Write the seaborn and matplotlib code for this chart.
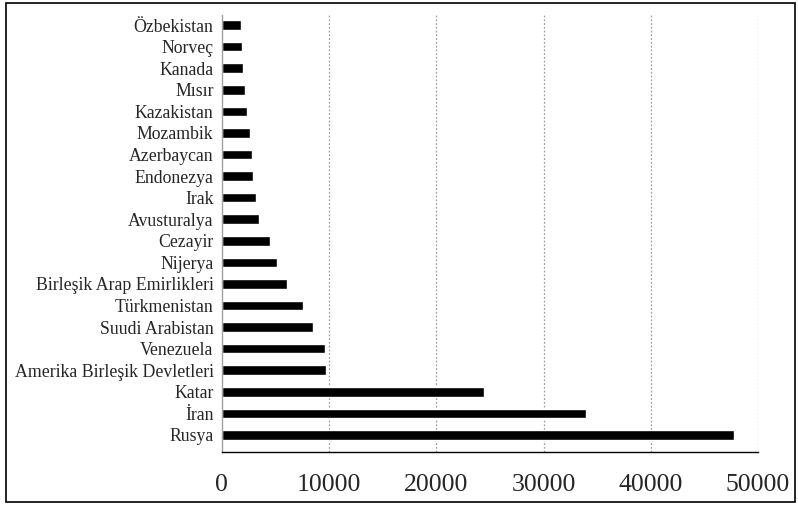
"""Horizontal bar chart: countries by value (reference recreation)."""
import matplotlib
matplotlib.use("Agg")
import matplotlib.pyplot as plt
import pandas as pd
import seaborn as sns
from matplotlib.patches import Rectangle

COUNTRIES = [
    "Özbekistan", "Norveç", "Kanada", "Mısır", "Kazakistan", "Mozambik",
    "Azerbaycan", "Endonezya", "Irak", "Avusturalya", "Cezayir", "Nijerya",
    "Birleşik Arap Emirlikleri", "Türkmenistan", "Suudi Arabistan",
    "Venezuela", "Amerika Birleşik Devletleri", "Katar", "İran", "Rusya",
]
VALUES = [
    1830, 1920, 1990, 2170, 2390, 2580, 2800, 2860, 3140, 3510, 4470, 5120,
    6090, 7560, 8530, 9660, 9690, 24480, 33990, 47760,
]
XTICKS = [0, 10000, 20000, 30000, 40000, 50000]

sns.set_style("white")
plt.rcParams["font.family"] = ["Liberation Serif", "DejaVu Serif"]

df = pd.DataFrame({"country": COUNTRIES, "value": VALUES})

fig = plt.figure(figsize=(7.98, 5.05), dpi=100)
ax = fig.add_axes([0.278, 0.105, 0.672, 0.865])
sns.barplot(data=df, x="value", y="country", orient="h", color="black",
            width=0.44, saturation=1, ax=ax)

ax.set_xlim(0, 50000)
ax.set_ylim(len(COUNTRIES) - 1 + 0.79, -0.46)
ax.set_xticks(XTICKS)
ax.set_xticklabels([str(t) for t in XTICKS], fontsize=18.5)
ax.tick_params(axis="x", length=0, pad=16)
ax.tick_params(axis="y", length=0, pad=6, labelsize=12.8)
ax.set_xlabel("")
ax.set_ylabel("")
for t in XTICKS[1:]:
    ax.axvline(t, color="#a0a0a0", lw=0.9, ls=(0, (1.5, 1.5)), zorder=0)

for side in ("top", "right"):
    ax.spines[side].set_visible(False)
ax.spines["left"].set_color("#a0a0a0")
ax.spines["left"].set_linewidth(1.0)
ax.spines["bottom"].set_color("black")
ax.spines["bottom"].set_linewidth(1.0)

# thin frame around the whole picture
fig.patches.append(Rectangle((6 / 798, 3 / 505), 789 / 798, 499 / 505,
                             transform=fig.transFigure, fill=False,
                             edgecolor="black", lw=1.2))

fig.savefig("out.png", dpi=100)
